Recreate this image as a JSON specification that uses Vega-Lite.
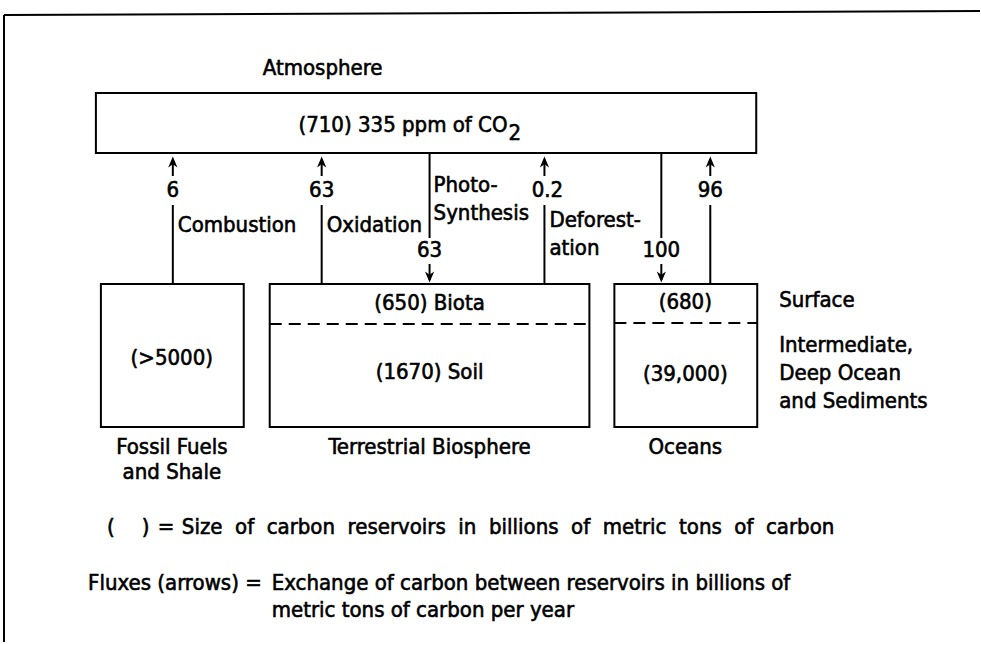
{
  "$schema": "https://vega.github.io/schema/vega-lite/v6.json",
  "width": 981,
  "height": 645,
  "padding": 0,
  "autosize": {"type": "fit", "contains": "padding"},
  "background": "white",
  "config": {"view": {"stroke": null}, "axis": {"disable": true}},
  "datasets": {
    "boxes": [
      {"name": "Atmosphere", "x": 96, "x2": 757, "y": 93, "y2": 153},
      {"name": "Fossil", "x": 101, "x2": 244, "y": 284, "y2": 427},
      {"name": "Terrestrial", "x": 270, "x2": 590, "y": 284, "y2": 427},
      {"name": "Oceans", "x": 615, "x2": 758, "y": 284, "y2": 427}
    ],
    "lines": [
      {"id": "frame-left", "x": 4, "y": 15, "x2": 4, "y2": 642},
      {"id": "frame-top", "x": 4, "y": 15, "x2": 981, "y2": 11},
      {"id": "comb-stem", "x": 173, "y": 160, "x2": 173, "y2": 176},
      {"id": "comb-line", "x": 173, "y": 205, "x2": 173, "y2": 284},
      {"id": "oxi-stem", "x": 322, "y": 160, "x2": 322, "y2": 176},
      {"id": "oxi-line", "x": 322, "y": 205, "x2": 322, "y2": 284},
      {"id": "def-stem", "x": 545, "y": 160, "x2": 545, "y2": 176},
      {"id": "def-line", "x": 545, "y": 205, "x2": 545, "y2": 284},
      {"id": "oc96-stem", "x": 711, "y": 160, "x2": 711, "y2": 176},
      {"id": "oc96-line", "x": 711, "y": 205, "x2": 711, "y2": 284},
      {"id": "photo-line", "x": 430, "y": 153, "x2": 430, "y2": 238},
      {"id": "photo-stem", "x": 430, "y": 264, "x2": 430, "y2": 280},
      {"id": "oc100-line", "x": 662, "y": 153, "x2": 662, "y2": 238},
      {"id": "oc100-stem", "x": 662, "y": 264, "x2": 662, "y2": 280}
    ],
    "dashes": [
      {"id": "biota", "x": 270, "y": 324, "x2": 590, "y2": 324},
      {"id": "surface", "x": 615, "y": 323, "x2": 758, "y2": 323}
    ],
    "up": [
      {"flux": "Combustion", "x": 173, "y": 162},
      {"flux": "Oxidation", "x": 322, "y": 162},
      {"flux": "Deforestation", "x": 545, "y": 162},
      {"flux": "Ocean release", "x": 711, "y": 162}
    ],
    "down": [
      {"flux": "Photosynthesis", "x": 430, "y": 277},
      {"flux": "Ocean uptake", "x": 662, "y": 277}
    ],
    "centered": [
      {"t": "Atmosphere", "x": 323, "y": 68},
      {"t": "6", "x": 173, "y": 190},
      {"t": "63", "x": 322, "y": 190},
      {"t": "0.2", "x": 548, "y": 190},
      {"t": "96", "x": 711, "y": 190},
      {"t": "63", "x": 430, "y": 250},
      {"t": "100", "x": 662, "y": 250},
      {"t": "(>5000)", "x": 172, "y": 358},
      {"t": "(650) Biota", "x": 430, "y": 303},
      {"t": "(1670) Soil", "x": 430, "y": 372},
      {"t": "(680)", "x": 686, "y": 302},
      {"t": "(39,000)", "x": 686, "y": 374},
      {"t": "Fossil Fuels", "x": 172, "y": 447},
      {"t": "and Shale", "x": 172, "y": 472},
      {"t": "Terrestrial Biosphere", "x": 430, "y": 447},
      {"t": "Oceans", "x": 686, "y": 447}
    ],
    "right": [
      {"t": "(710) 335 ppm of CO", "x": 508, "y": 125},
      {"t": "Fluxes (arrows) =", "x": 262, "y": 583}
    ],
    "left": [
      {"t": "2", "x": 509, "y": 133},
      {"t": "Combustion", "x": 178, "y": 225},
      {"t": "Oxidation", "x": 327, "y": 225},
      {"t": "Photo-", "x": 434, "y": 185},
      {"t": "Synthesis", "x": 434, "y": 213},
      {"t": "Deforest-", "x": 550, "y": 220},
      {"t": "ation", "x": 550, "y": 248},
      {"t": "Surface", "x": 780, "y": 300},
      {"t": "Intermediate,", "x": 780, "y": 345},
      {"t": "Deep Ocean", "x": 780, "y": 373},
      {"t": "and Sediments", "x": 780, "y": 401},
      {"t": "(", "x": 107, "y": 527},
      {"t": ")", "x": 142, "y": 527},
      {"t": "=", "x": 158, "y": 527},
      {"t": "Size\u00a0 of\u00a0 carbon\u00a0 reservoirs\u00a0 in\u00a0 billions\u00a0 of\u00a0 metric\u00a0 tons\u00a0 of\u00a0 carbon", "x": 182, "y": 527},
      {"t": "Exchange of carbon between reservoirs in billions of", "x": 272, "y": 583},
      {"t": "metric tons of carbon per year", "x": 272, "y": 610}
    ]
  },
  "layer": [
    {
      "data": {"name": "boxes"},
      "mark": {"type": "rect", "fill": null, "stroke": "black", "strokeWidth": 2},
      "encoding": {
        "x": {"field": "x", "type": "quantitative", "scale": {"domain": [0, 981], "nice": false, "zero": false}, "axis": null},
        "x2": {"field": "x2"},
        "y": {"field": "y", "type": "quantitative", "scale": {"domain": [0, 645], "nice": false, "zero": false, "reverse": true}, "axis": null},
        "y2": {"field": "y2"}
      }
    },
    {
      "data": {"name": "lines"},
      "mark": {"type": "rule", "stroke": "black", "strokeWidth": 2},
      "encoding": {
        "x": {"field": "x", "type": "quantitative"},
        "x2": {"field": "x2"},
        "y": {"field": "y", "type": "quantitative"},
        "y2": {"field": "y2"}
      }
    },
    {
      "data": {"name": "dashes"},
      "mark": {"type": "rule", "stroke": "black", "strokeWidth": 2, "strokeDash": [12, 7]},
      "encoding": {
        "x": {"field": "x", "type": "quantitative"},
        "x2": {"field": "x2"},
        "y": {"field": "y", "type": "quantitative"},
        "y2": {"field": "y2"}
      }
    },
    {
      "data": {"name": "up"},
      "mark": {"type": "point", "shape": "M-0.5,0.6L0,-0.6L0.5,0.6L0,0.25Z", "filled": true, "color": "black", "size": 340, "opacity": 1},
      "encoding": {
        "x": {"field": "x", "type": "quantitative"},
        "y": {"field": "y", "type": "quantitative"}
      }
    },
    {
      "data": {"name": "down"},
      "mark": {"type": "point", "shape": "M-0.5,-0.6L0,0.6L0.5,-0.6L0,-0.25Z", "filled": true, "color": "black", "size": 340, "opacity": 1},
      "encoding": {
        "x": {"field": "x", "type": "quantitative"},
        "y": {"field": "y", "type": "quantitative"}
      }
    },
    {
      "data": {"name": "centered"},
      "mark": {"type": "text", "align": "center", "baseline": "middle", "font": "DejaVu Sans Condensed", "fontSize": 22, "fontWeight": "normal", "fill": "black", "stroke": "black", "strokeWidth": 0.6},
      "encoding": {
        "x": {"field": "x", "type": "quantitative"},
        "y": {"field": "y", "type": "quantitative"},
        "text": {"field": "t"}
      }
    },
    {
      "data": {"name": "right"},
      "mark": {"type": "text", "align": "right", "baseline": "middle", "font": "DejaVu Sans Condensed", "fontSize": 22, "fontWeight": "normal", "fill": "black", "stroke": "black", "strokeWidth": 0.6},
      "encoding": {
        "x": {"field": "x", "type": "quantitative"},
        "y": {"field": "y", "type": "quantitative"},
        "text": {"field": "t"}
      }
    },
    {
      "data": {"name": "left"},
      "mark": {"type": "text", "align": "left", "baseline": "middle", "font": "DejaVu Sans Condensed", "fontSize": 22, "fontWeight": "normal", "fill": "black", "stroke": "black", "strokeWidth": 0.6},
      "encoding": {
        "x": {"field": "x", "type": "quantitative"},
        "y": {"field": "y", "type": "quantitative"},
        "text": {"field": "t"}
      }
    }
  ]
}
